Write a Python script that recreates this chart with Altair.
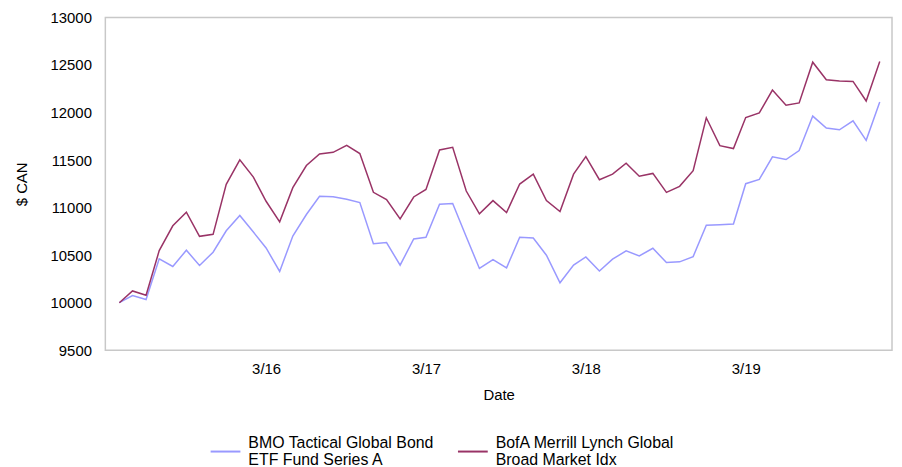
import altair as alt
import pandas as pd

# Monthly observation dates (month starts), Apr 2015 .. Jan 2020
dates = pd.date_range("2015-04-01", periods=58, freq="MS").strftime("%Y-%m-%d").tolist()

series_bmo = "BMO Tactical Global Bond|ETF Fund Series A"
series_bofa = "BofA Merrill Lynch Global|Broad Market Idx"

bmo = [10000, 10075, 10033, 10461, 10381, 10552, 10392, 10531, 10757, 10918,
       10743, 10576, 10329, 10701, 10928, 11119, 11115, 11088, 11053, 10621,
       10632, 10395, 10670, 10688, 11036, 11043, 10694, 10360, 10454, 10367,
       10688, 10681, 10500, 10210, 10395, 10482, 10333, 10458, 10545, 10492,
       10573, 10422, 10430, 10485, 10816, 10820, 10827, 11252, 11297, 11534,
       11506, 11600, 11963, 11837, 11819, 11913, 11708, 12112]

bofa = [10000, 10124, 10078, 10548, 10809, 10952, 10698, 10719, 11245, 11503,
        11321, 11067, 10851, 11210, 11443, 11565, 11582, 11656, 11569, 11161,
        11085, 10882, 11112, 11192, 11607, 11635, 11175, 10935, 11074, 10949,
        11248, 11352, 11074, 10959, 11352, 11537, 11294, 11352, 11467, 11331,
        11360, 11161, 11224, 11388, 11945, 11652, 11621, 11948, 11997, 12237,
        12077, 12101, 12530, 12345, 12331, 12328, 12122, 12537]

y_ticks = [9500, 10000, 10500, 11000, 11500, 12000, 12500, 13000]
x_tick_years = [2016, 2017, 2018, 2019]

df = pd.concat([
    pd.DataFrame({"date": dates, "value": bmo, "series": series_bmo}),
    pd.DataFrame({"date": dates, "value": bofa, "series": series_bofa}),
])

font = "Liberation Sans"

chart = alt.Chart(df).mark_line(strokeWidth=1.5).encode(
    x=alt.X(
        "date:T",
        scale=alt.Scale(
            type="utc",
            domain=[alt.DateTime(year=2015, month=2, date=28, utc=True),
                    alt.DateTime(year=2020, month=1, date=29, utc=True)],
        ),
        axis=alt.Axis(
            title="Date",
            values=[alt.DateTime(year=y, month=3, date=1, utc=True) for y in x_tick_years],
            labelExpr="utcFormat(datum.value, '%-m/%y')",
            labelPadding=11,
            titlePadding=12,
        ),
    ),
    y=alt.Y(
        "value:Q",
        scale=alt.Scale(domain=[9500, 13000], nice=False, zero=False),
        axis=alt.Axis(
            title="$ CAN",
            values=y_ticks,
            format="d",
            labelPadding=14,
            titlePadding=21,
        ),
    ),
    color=alt.Color(
        "series:N",
        title=None,
        scale=alt.Scale(domain=[series_bmo, series_bofa], range=["#9999FF", "#993366"]),
        legend=alt.Legend(
            orient="none",
            legendX=105,
            legendY=421,
            direction="horizontal",
            columns=2,
            columnPadding=20,
            symbolType="stroke",
            symbolSize=900,
            symbolStrokeWidth=2,
            labelOffset=7,
            labelFontSize=16,
            labelFont=font,
            labelColor="#000000",
            labelLimit=400,
            labelBaseline="line-bottom",
            labelExpr="split(datum.label, '|')",
        ),
    ),
).properties(
    width=792,
    height=335,
    autosize="none",
    padding={"left": 98, "top": 8, "right": 2, "bottom": 118},
).configure_view(
    stroke="#c8c8c8",
    strokeWidth=1.5,
).configure_axis(
    grid=False,
    domain=False,
    ticks=False,
    tickSize=0,
    labelFont=font,
    labelFontSize=15,
    labelColor="#000000",
    titleFont=font,
    titleFontSize=15,
    titleFontWeight="normal",
    titleColor="#000000",
)

chart.save("out.html", embed_options={"renderer": "svg", "actions": False})
